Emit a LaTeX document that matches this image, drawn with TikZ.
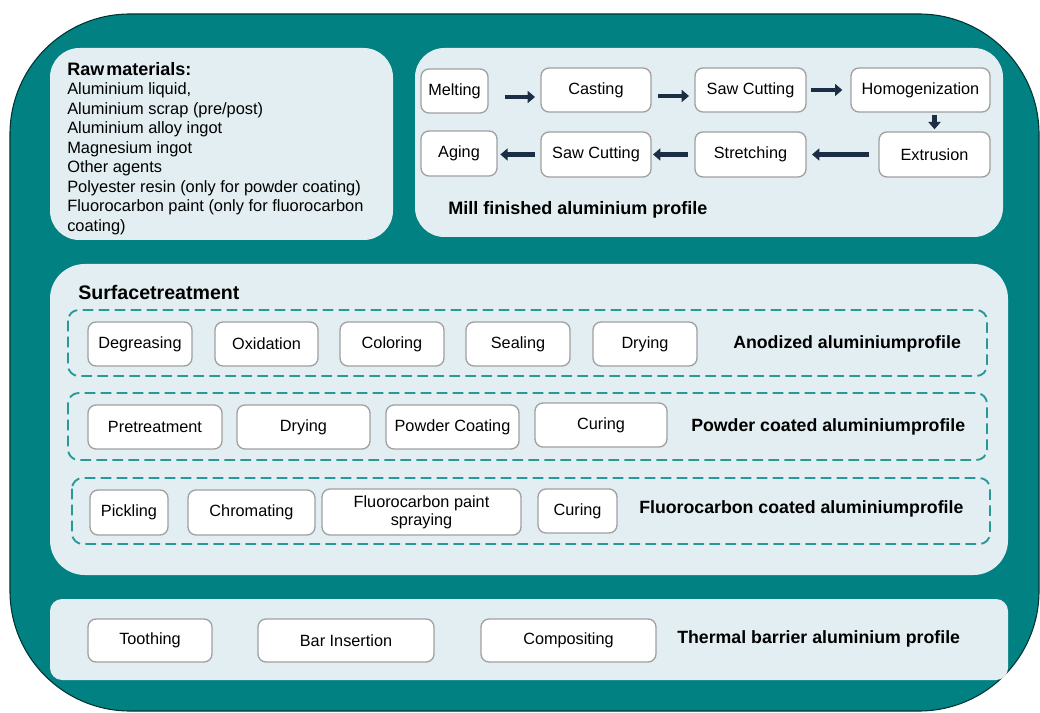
\documentclass[tikz,border=0pt]{standalone}
\usepackage{fontspec}
\setmainfont{Liberation Sans}
\usetikzlibrary{arrows.meta}
\definecolor{tealbg}{HTML}{018181}
\definecolor{panelbg}{HTML}{E2EEF1}
\definecolor{boxline}{HTML}{A0A0A0}
\definecolor{dashteal}{HTML}{2A9898}
\definecolor{arrownavy}{HTML}{1C2E45}
\tikzset{
  panel/.style={fill=panelbg},
  stepnode/.style={draw=boxline, fill=white, rounded corners=6pt, line width=1pt,
    minimum height=33pt, inner sep=2pt, align=center, font=\fontsize{12.2}{13.5}\selectfont},
  groupbox/.style={draw=dashteal, dash pattern=on 8pt off 4pt, line width=1.4pt, rounded corners=8pt},
  flow/.style={draw=arrownavy, line width=3.4pt, -{Triangle[length=5.5pt,width=9pt]}},
  proflabel/.style={anchor=west, inner sep=0pt, font=\bfseries\fontsize{13.3}{15}\selectfont},
}
\begin{document}
\begin{tikzpicture}[x=0.75pt, y=-0.75pt]
  \useasboundingbox (0,0) rectangle (1040,713);
  \draw[fill=tealbg, draw=black!60!tealbg, line width=0.8pt, rounded corners=90pt] (10,14) rectangle (1039,711);

  % panels
  \fill[panel, rounded corners=22pt] (50,48) rectangle (393,240);
  \fill[panel, rounded corners=22pt] (415,48) rectangle (1003,237);
  \fill[panel, rounded corners=26pt] (50,264) rectangle (1008,575);
  \fill[panel, rounded corners=9pt] (50,599) rectangle (1008,680);

  % raw materials
  \node[anchor=north west, align=left, inner sep=0pt, font=\fontsize{12.3}{14.6}\selectfont] (raw) at (67,62)
    {{\bfseries\fontsize{13.5}{14.6}\selectfont Raw\hspace{1.5pt}materials:}\\
     Aluminium liquid,\\
     Aluminium scrap (pre/post)\\
     Aluminium alloy ingot\\
     Magnesium ingot\\
     Other agents\\
     Polyester resin (only for powder coating)\\
     Fluorocarbon paint (only for fluorocarbon\\
     coating)};

  % mill finished
  \node[stepnode, minimum width=50.25pt] (melt) at (454.5,91) {Melting};
  \node[stepnode, minimum width=82.5pt] (cast) at (596,90) {Casting};
  \node[stepnode, minimum width=83.25pt] (saw) at (750.5,90) {Saw Cutting};
  \node[stepnode, minimum width=104.25pt] (homog) at (920.5,90) {Homogenization};
  \node[stepnode, minimum width=57pt, minimum height=33.75pt] (aging) at (459,153.5) {Aging};
  \node[stepnode, minimum width=82.5pt, minimum height=33.75pt] (sawb) at (596,154.5) {Saw Cutting};
  \node[stepnode, minimum width=83.25pt, minimum height=33.75pt] (stretch) at (750.5,154.5) {Stretching};
  \node[stepnode, minimum width=83.25pt, minimum height=33.75pt] (extr) at (934.5,154.5) {Extrusion};

  \draw[flow, shorten <=12pt, shorten >=4pt] ([yshift=-4.5pt]melt.east) -- ([yshift=-4.5pt]melt.east -| cast.west);
  \draw[flow, shorten <=5pt, shorten >=4pt] ([yshift=-4.5pt]cast.east) -- ([yshift=-4.5pt]cast.east -| saw.west);
  \draw[flow, shorten <=3pt, shorten >=6pt] (saw.east) -- (homog.west);
  \draw[flow, shorten <=2pt, shorten >=1.5pt] (homog.south -| extr) -- (extr.north);
  \draw[flow, shorten <=7pt, shorten >=4pt] (extr.west) -- (stretch.east);
  \draw[flow, shorten <=5pt, shorten >=1pt] (stretch.west) -- (sawb.east);
  \draw[flow, shorten <=4pt, shorten >=2pt] (sawb.west) -- (sawb.west -| aging.east);

  \node[proflabel, font=\bfseries\fontsize{13.5}{15}\selectfont] (millname) at (448,210) {Mill finished aluminium profile};

  % surface treatment
  \node[anchor=west, inner sep=0pt, font=\bfseries\fontsize{14.7}{17}\selectfont] (surf) at (78,292) {Surfacetreatment};

  \draw[groupbox] (68,310) rectangle (987,376);
  \node[stepnode, minimum width=78pt] (degr) at (140,344) {Degreasing};
  \node[stepnode, minimum width=77.25pt] (oxid) at (266.5,344) {Oxidation};
  \node[stepnode, minimum width=78pt] (color) at (392,344) {Coloring};
  \node[stepnode, minimum width=78pt] (seal) at (518,344) {Sealing};
  \node[stepnode, minimum width=78pt] (drya) at (645,344) {Drying};
  \node[proflabel] (anod) at (733,344) {Anodized aluminiumprofile};

  \draw[groupbox] (68,393) rectangle (987,460);
  \node[stepnode, minimum width=100.5pt] (pretr) at (155,427) {Pretreatment};
  \node[stepnode, minimum width=99.75pt] (dryb) at (303.5,427) {Drying};
  \node[stepnode, minimum width=99.75pt] (powder) at (452.5,427) {Powder Coating};
  \node[stepnode, minimum width=99pt] (cureb) at (601,425) {Curing};
  \node[proflabel] (powd) at (691,427) {Powder coated aluminiumprofile};

  \draw[groupbox] (72,478) rectangle (990,544);
  \node[stepnode, minimum width=58.5pt, minimum height=33.75pt] (pickl) at (129,512.5) {Pickling};
  \node[stepnode, minimum width=95.25pt, minimum height=33.75pt] (chrom) at (251.5,512.5) {Chromating};
  \node[stepnode, minimum width=149.25pt, minimum height=34.5pt] (spray) at (421.5,512) {Fluorocarbon paint\\spraying};
  \node[stepnode, minimum width=59.25pt] (curec) at (577.5,511) {Curing};
  \node[proflabel] (fluor) at (639,509) {Fluorocarbon coated aluminiumprofile};

  % thermal barrier
  \node[stepnode, minimum width=93pt, minimum height=32.25pt] (tooth) at (150,640.5) {Toothing};
  \node[stepnode, minimum width=132pt, minimum height=32.25pt] (bar) at (346,640.5) {Bar Insertion};
  \node[stepnode, minimum width=131.25pt, minimum height=32.25pt] (compo) at (568.5,640.5) {Compositing};
  \node[proflabel] (therm) at (677,639) {Thermal barrier aluminium profile};
\end{tikzpicture}
\end{document}
